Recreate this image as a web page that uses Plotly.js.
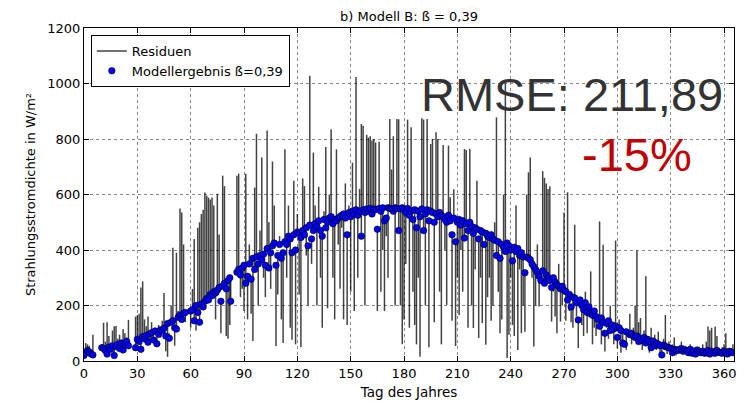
<!DOCTYPE html>
<html>
<head>
<meta charset="utf-8">
<script src="https://cdn.plot.ly/plotly-3.0.1.min.js"></script>
<style>html,body{margin:0;padding:0;background:#fff;}#chart{width:749px;height:405px;}</style>
</head>
<body>
<div id="chart"></div>
<script>
// Day of year for each observation
const days = [
0,1,2,3,4,5,
10,11,12,13,14,15,16,17,18,19,20,21,22,23,24,25,
29,30,31,32,33,34,35,36,37,38,39,40,41,42,43,44,45,46,47,48,49,50,51,52,53,54,55,56,57,
60,61,62,63,64,65,66,67,68,69,70,71,72,73,74,75,76,77,78,79,80,81,82,82.5,
86,87,88,89,90,91,92,93,94,95,96,97,98,99,100,101,102,103,104,105,106,107,108,109,110,
111,112,113,114,115,116,117,118,119,120,121,122,123,124,125,126,127,128,129,130,
131,132,133,134,135,136,137,138,139,140,141,142,143,144,145,146,147,148,149,150,
151,152,153,154,155,156,157,158,159,160,161,162,163,164,165,166,167,168,169,170,
171,172,173,174,175,176,177,178,179,180,181,182,183,184,185,186,187,188,189,190,
191,192,193,194,195,196,197,198,199,200,201,202,203,204,205,206,207,208,209,210,
211,212,213,214,215,216,217,218,219,220,221,222,223,224,225,226,227,228,229,230,
231,232,233,234,235,236,237,238,239,240,241,242,243,244,245,246,247,248,249,250,
251,252,253,254,255,256,257,258,259,260,261,262,263,264,265,266,267,268,269,270,
271,272,273,274,275,276,277,278,279,280,281,282,283,284,285,286,287,288,289,290,
291,292,293,294,295,296,297,298,299,300,301,302,303,304,305,
307,308,309,310,311,312,313,314,315,316,317,318,319,320,321,322,323,324,325,326,327,328,329,330,
331,332,333,334,335,336,337,338,339,340,341,342,343,344,345,346,347,348,349,350,
351,352,353,354,355,356,357,358,359,360,361,362,363,364,365
];
// Model result (beta = 0.39), W/m²
const model = [
20,30,38,32,25,22,
48,45,38,25,50,42,55,20,52,60,45,65,40,62,70,55,
48,78,70,42,88,80,92,68,98,102,76,108,62,96,112,110,118,90,135,82,140,145,120,115,158,165,150,172,175,
180,185,145,200,175,140,205,195,215,225,220,240,235,250,245,255,265,215,270,280,260,290,300,215,
320,330,310,335,345,280,305,350,295,370,330,375,350,380,365,385,345,405,335,390,415,425,345,380,420,
370,390,430,420,450,440,390,455,400,465,460,445,470,455,480,415,490,440,470,495,
485,505,470,450,510,480,500,515,520,495,510,505,515,520,525,530,515,455,535,520,
540,530,545,525,540,450,545,535,548,540,550,530,548,545,475,550,540,552,505,515,
552,550,548,540,552,550,470,548,552,545,535,550,525,540,510,545,480,540,520,548,
470,530,545,505,540,535,500,530,520,535,525,520,510,500,525,505,455,515,430,500,
510,490,505,443,495,470,500,485,460,480,475,440,470,465,420,460,450,445,455,440,
435,380,430,370,420,410,395,425,415,400,361,410,395,405,380,390,375,318,375,370,
365,350,340,330,320,305,290,325,280,310,300,290,265,300,285,275,270,260,269,255,
250,220,240,195,230,227,210,148,220,200,185,210,175,195,170,165,180,160,150,125,
155,140,100,135,145,110,130,115,125,85,120,110,65,60,105,
95,100,90,85,90,70,80,75,85,65,78,70,48,72,55,65,60,55,22,58,52,50,48,45,
30,42,40,38,42,45,35,40,38,30,42,28,35,25,40,32,30,35,28,30,
38,25,35,30,28,38,32,30,28,35,30,25,35,32,30
];
// Measured value (other end of each residual line), W/m²
const measured = [
45,65,60,55,40,95,
60,138,70,140,90,60,110,125,126,80,95,70,115,100,85,148,
160,165,170,265,287,150,125,160,60,140,110,120,90,130,85,145,245,35,15,100,200,408,55,390,180,550,535,420,140,
120,260,440,110,480,500,530,545,607,596,589,582,589,560,150,603,456,100,668,630,90,80,130,300,
668,675,230,260,180,675,150,420,170,72,625,819,200,470,733,300,230,831,500,260,719,560,54,240,450,
150,65,763,300,560,120,77,650,60,530,240,50,658,630,380,200,1028,350,751,560,
200,628,300,120,540,771,190,600,835,300,150,763,420,260,480,150,640,130,560,250,
715,180,1023,300,620,854,848,200,815,805,810,795,800,787,180,790,250,400,180,450,
300,872,690,810,200,872,871,200,60,150,350,870,120,842,250,130,60,300,15,875,
870,200,872,50,782,800,140,824,800,250,60,778,400,202,776,590,145,619,54,300,
166,400,250,764,760,120,765,200,119,330,650,83,300,137,420,59,230,300,145,200,
500,878,250,100,150,600,1000,11,95,300,130,90,560,40,330,100,200,105,600,680,
733,300,52,200,420,196,300,684,660,640,620,630,142,250,160,100,350,142,200,535,
145,608,180,140,120,491,160,47,200,130,90,250,100,160,323,60,120,90,150,503,
60,419,34,120,80,200,101,60,434,45,150,30,100,70,40,
170,60,120,200,398,140,155,40,110,305,90,30,120,60,95,40,106,30,60,80,166,25,70,30,
60,85,20,50,30,70,25,55,40,20,60,35,15,50,30,45,20,60,40,70,
124,110,120,20,124,90,40,25,50,60,100,40,20,45,60
];
const xTicks = [0,30,60,90,120,150,180,210,240,270,300,330,360];
const yTicks = [0,200,400,600,800,1000,1200];

const lx = [], ly = [];
for (let i = 0; i < days.length; i++) {
  lx.push(days[i], days[i], null);
  ly.push(model[i], measured[i], null);
}

const traces = [
  {x: lx, y: ly, mode: 'lines', name: 'Residuen', type: 'scatter',
   line: {color: 'rgba(0,0,0,0.74)', width: 1.5}, hoverinfo: 'skip'},
  {x: days, y: model, mode: 'markers', name: 'Modellergebnis ß=0,39', type: 'scatter',
   marker: {color: '#0000ff', size: 6.5, line: {color: '#000', width: 0.6}}}
];

const axisCommon = {
  showline: true, linecolor: '#000', linewidth: 1, mirror: 'allticks',
  ticks: 'inside', ticklen: 5, tickcolor: '#000',
  showgrid: true, gridcolor: '#888', griddash: 'dot', gridwidth: 1,
  zeroline: false, tickfont: {size: 13, color: '#000'}
};

const layout = {
  width: 749, height: 405,
  margin: {l: 84, r: 15, t: 28, b: 44},
  paper_bgcolor: '#fff', plot_bgcolor: '#fff',
  font: {family: 'DejaVu Sans, sans-serif', color: '#000'},
  xaxis: Object.assign({}, axisCommon, {range: [0, 365.6], tickvals: xTicks, ticktext: xTicks.map(String),
    title: {text: 'Tag des Jahres', font: {size: 13.5}, standoff: 7}}),
  yaxis: Object.assign({}, axisCommon, {range: [0, 1200], tickvals: yTicks, ticktext: yTicks.map(String),
    title: {text: 'Strahlungsstromdichte in W/m²', font: {size: 13}, standoff: 8}}),
  showlegend: true,
  legend: {x: 0.0105, y: 0.979, xanchor: 'left', yanchor: 'top', bgcolor: '#fff',
    bordercolor: '#000', borderwidth: 1, font: {size: 13}, tracegroupgap: 2},
  annotations: [
    {xref: 'paper', yref: 'paper', x: 0.5, y: 1, xanchor: 'center', yanchor: 'bottom', yshift: 2,
     text: 'b) Modell B: ß = 0,39', showarrow: false, font: {size: 13, color: '#000'}},
    {xref: 'paper', yref: 'paper', x: 0.986, y: 0.80, xanchor: 'right', yanchor: 'middle',
     text: 'RMSE: 211,89', showarrow: false, font: {family: 'Liberation Sans, Arial, sans-serif', size: 47, color: '#333'}},
    {xref: 'paper', yref: 'paper', x: 0.851, y: 0.62, xanchor: 'center', yanchor: 'middle',
     text: '-15%', showarrow: false, font: {family: 'Liberation Sans, Arial, sans-serif', size: 47, color: '#c00000'}}
  ]
};

Plotly.newPlot('chart', traces, layout, {displayModeBar: false, staticPlot: true});
</script>
</body>
</html>
